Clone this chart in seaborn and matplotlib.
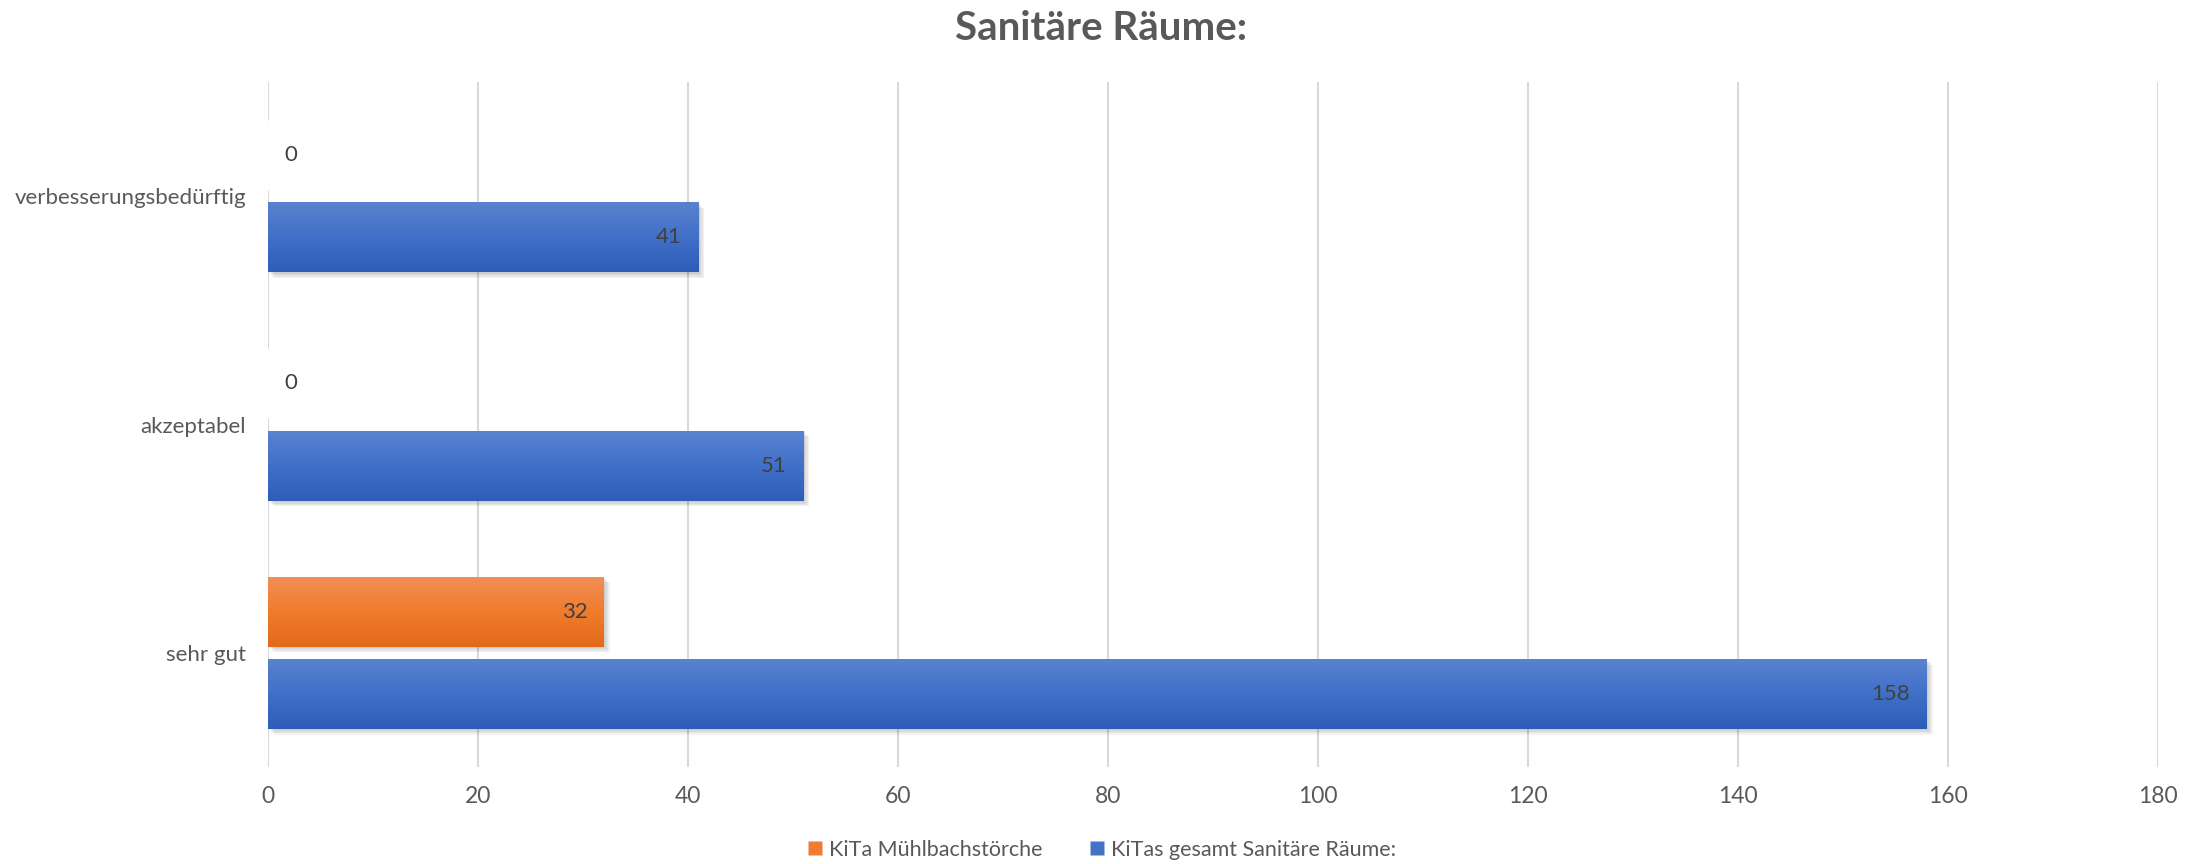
import numpy as np
import pandas as pd
import matplotlib
matplotlib.use("Agg")
import matplotlib.pyplot as plt
import matplotlib.patheffects as pe
from matplotlib.colors import LinearSegmentedColormap
from matplotlib.lines import Line2D
import seaborn as sns

# ---- data ----
title = "Sanitäre Räume:"
categories = ["verbesserungsbedürftig", "akzeptabel", "sehr gut"]
series_names = ["KiTa Mühlbachstörche", "KiTas gesamt Sanitäre Räume:"]
kita_values = [0, 0, 32]
gesamt_values = [41, 51, 158]
x_ticks = [0, 20, 40, 60, 80, 100, 120, 140, 160, 180]

df = pd.DataFrame({
    "Bewertung": categories * 2,
    "Einrichtung": [series_names[0]] * len(categories) + [series_names[1]] * len(categories),
    "Anzahl": kita_values + gesamt_values,
})

# ---- style ----
sns.set_style("white")
plt.rcParams["font.family"] = ["Lato", "DejaVu Sans"]
text_grey = "#595959"
label_grey = "#404040"
base_colors = {series_names[0]: "#ED7D31", series_names[1]: "#4472C4"}
gradients = {
    series_names[0]: ["#F28F58", "#F07C2C", "#E4691A"],
    series_names[1]: ["#5B83CF", "#4070C8", "#2D5DB7"],
}

fig = plt.figure(figsize=(22.03, 8.64), dpi=100)
ax = fig.add_axes([0.1217, 0.1123, 0.8579, 0.7927])

sns.barplot(
    data=df, y="Bewertung", x="Anzahl", hue="Einrichtung",
    order=categories, hue_order=series_names, palette=base_colors,
    orient="h", width=0.722, gap=0.15, saturation=1, legend=False, ax=ax,
)

ax.set_xlim(0, 180)
ax.set_ylim(2.5, -0.5)

# gradient fill, soft shadow and value labels for each bar
grad = np.linspace(0, 1, 256).reshape(-1, 1)
shadow = [pe.SimplePatchShadow(offset=(o, -o), shadow_rgbFace="black", alpha=0.05)
          for o in (1.0, 2.0, 3.0, 4.0)]
for container, name, values in zip(ax.containers, series_names, [kita_values, gesamt_values]):
    cmap = LinearSegmentedColormap.from_list(name, gradients[name])
    for bar, val in zip(container.patches, values):
        y0, h = bar.get_y(), bar.get_height()
        ymid = y0 + h / 2
        if bar.get_width() > 0:
            bar.set_edgecolor("none")
            bar.set_zorder(2)
            bar.set_path_effects(shadow + [pe.Normal()])
            img = ax.imshow(grad, cmap=cmap, aspect="auto", origin="upper",
                            extent=(bar.get_x(), bar.get_x() + bar.get_width(), y0 + h, y0),
                            zorder=2.5, interpolation="bicubic")
            img.set_clip_path(bar)
            ax.annotate(f"{val}", xy=(val, ymid), xytext=(-12, 0), textcoords="offset points",
                        ha="right", va="center", fontsize=16, color=label_grey, zorder=3)
        else:
            ax.annotate(f"{val}", xy=(val, ymid), xytext=(12, 0), textcoords="offset points",
                        ha="left", va="center", fontsize=16, color=label_grey, zorder=3)

ax.set_xlim(0, 180)
ax.set_ylim(2.5, -0.5)

# axes, grid and ticks
ax.set_xticks(x_ticks)
ax.xaxis.grid(True, color="#D9D9D9", linewidth=1.5)
ax.yaxis.grid(False)
ax.set_axisbelow(True)
for s in ax.spines.values():
    s.set_visible(False)
ax.tick_params(axis="x", length=0, pad=14, labelsize=16.5, labelcolor=text_grey)
ax.tick_params(axis="y", length=0, pad=16, labelsize=16, labelcolor=text_grey)
ax.set_xlabel("")
ax.set_ylabel("")

fig.text(0.5, 1 - 28 / 864, title, ha="center", va="center",
         fontsize=29, fontweight="bold", color=text_grey)

handles = [Line2D([], [], marker="s", linestyle="none", markersize=10,
                  markerfacecolor=base_colors[n], markeredgecolor="none") for n in series_names]
fig.legend(handles, series_names, loc="center", bbox_to_anchor=(0.5, 1 - 850 / 864),
           ncol=2, frameon=False, fontsize=15.5, labelcolor=text_grey,
           handlelength=0.7, handletextpad=0.3, columnspacing=2.2)

fig.savefig("out.png", dpi=100)
